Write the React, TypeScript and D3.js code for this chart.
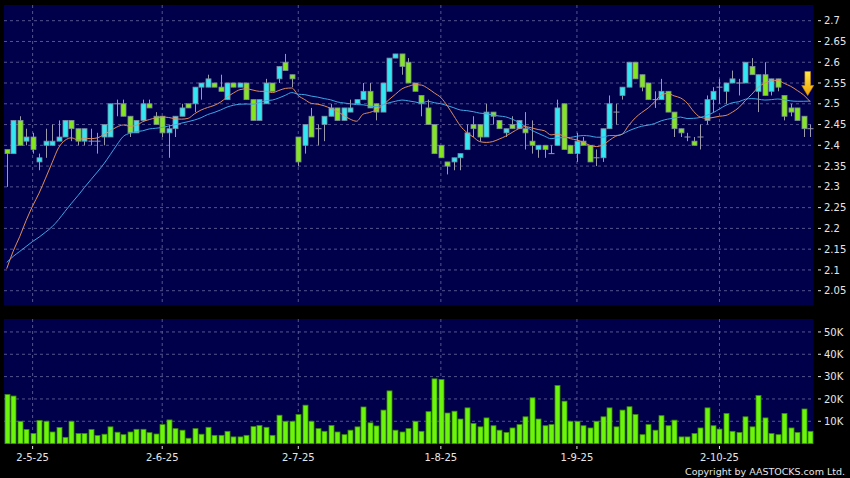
import React from 'react';
import * as d3 from 'd3';

const tickIndex = [4, 24, 45, 67, 88, 110];
const tickLabels = ['2-5-25', '2-6-25', '2-7-25', '1-8-25', '1-9-25', '2-10-25'];

const opens = [
  2.39, 2.38, 2.46, 2.41, 2.42, 2.36, 2.40, 2.40, 2.41, 2.42,
  2.46, 2.44, 2.41, 2.41, 2.41, 2.42, 2.42, 2.50, 2.50, 2.47,
  2.43, 2.46, 2.50, 2.47, 2.47, 2.43, 2.44, 2.47, 2.50, 2.50,
  2.54, 2.54, 2.55, 2.54, 2.51, 2.55, 2.54, 2.55, 2.51, 2.46,
  2.50, 2.55, 2.56, 2.60, 2.57, 2.42, 2.40, 2.47, 2.44, 2.45,
  2.47, 2.49, 2.46, 2.48, 2.50, 2.51, 2.53, 2.50, 2.48, 2.53,
  2.61, 2.62, 2.60, 2.55, 2.52, 2.49, 2.45, 2.40, 2.36, 2.36,
  2.37, 2.39, 2.45, 2.45, 2.42, 2.48, 2.46, 2.43, 2.45, 2.44,
  2.44, 2.41, 2.39, 2.40, 2.38, 2.40, 2.50, 2.40, 2.38, 2.41,
  2.40, 2.37, 2.37, 2.44, 2.48, 2.52, 2.54, 2.60, 2.57, 2.55,
  2.51, 2.51, 2.53, 2.48, 2.44, 2.42, 2.41, 2.42, 2.46, 2.51,
  2.54, 2.53, 2.55, 2.55, 2.55, 2.59, 2.53, 2.57, 2.53, 2.56,
  2.52, 2.49, 2.49, 2.47, 2.44,
];
const highs = [
  2.39, 2.46, 2.47, 2.44, 2.43, 2.38, 2.44, 2.45, 2.46, 2.46,
  2.46, 2.44, 2.44, 2.44, 2.43, 2.45, 2.50, 2.51, 2.51, 2.47,
  2.46, 2.51, 2.51, 2.48, 2.47, 2.45, 2.47, 2.50, 2.50, 2.54,
  2.55, 2.57, 2.55, 2.57, 2.55, 2.55, 2.55, 2.55, 2.51, 2.51,
  2.56, 2.55, 2.59, 2.62, 2.57, 2.42, 2.45, 2.49, 2.45, 2.47,
  2.50, 2.49, 2.49, 2.51, 2.51, 2.55, 2.55, 2.50, 2.55, 2.61,
  2.62, 2.62, 2.61, 2.55, 2.52, 2.51, 2.45, 2.40, 2.36, 2.37,
  2.38, 2.45, 2.47, 2.45, 2.50, 2.48, 2.46, 2.44, 2.47, 2.46,
  2.48, 2.46, 2.40, 2.40, 2.40, 2.51, 2.50, 2.40, 2.43, 2.42,
  2.40, 2.39, 2.44, 2.52, 2.50, 2.54, 2.60, 2.60, 2.57, 2.55,
  2.53, 2.56, 2.53, 2.48, 2.44, 2.43, 2.42, 2.45, 2.52, 2.54,
  2.56, 2.55, 2.58, 2.56, 2.60, 2.61, 2.57, 2.60, 2.56, 2.56,
  2.52, 2.50, 2.49, 2.47, 2.45,
];
const lows = [
  2.30, 2.38, 2.40, 2.40, 2.38, 2.34, 2.37, 2.40, 2.41, 2.42,
  2.41, 2.40, 2.40, 2.40, 2.38, 2.40, 2.42, 2.47, 2.47, 2.42,
  2.43, 2.46, 2.49, 2.45, 2.42, 2.37, 2.42, 2.47, 2.49, 2.48,
  2.51, 2.54, 2.54, 2.53, 2.51, 2.54, 2.54, 2.51, 2.46, 2.46,
  2.50, 2.53, 2.55, 2.58, 2.54, 2.35, 2.38, 2.42, 2.40, 2.41,
  2.47, 2.46, 2.46, 2.48, 2.50, 2.51, 2.49, 2.46, 2.48, 2.53,
  2.61, 2.57, 2.55, 2.53, 2.47, 2.45, 2.38, 2.37, 2.33, 2.34,
  2.34, 2.39, 2.42, 2.41, 2.42, 2.45, 2.44, 2.42, 2.44, 2.44,
  2.39, 2.38, 2.37, 2.37, 2.38, 2.40, 2.39, 2.38, 2.36, 2.40,
  2.36, 2.35, 2.36, 2.44, 2.45, 2.51, 2.54, 2.56, 2.53, 2.51,
  2.49, 2.51, 2.48, 2.42, 2.42, 2.41, 2.40, 2.39, 2.45, 2.48,
  2.50, 2.50, 2.55, 2.52, 2.55, 2.57, 2.48, 2.52, 2.52, 2.53,
  2.46, 2.47, 2.46, 2.42, 2.42,
];
const closes = [
  2.38, 2.46, 2.40, 2.42, 2.39, 2.37, 2.41, 2.41, 2.42, 2.46,
  2.44, 2.41, 2.44, 2.41, 2.41, 2.45, 2.50, 2.50, 2.47, 2.43,
  2.46, 2.50, 2.49, 2.45, 2.43, 2.44, 2.47, 2.49, 2.49, 2.54,
  2.55, 2.56, 2.54, 2.53, 2.55, 2.54, 2.55, 2.51, 2.46, 2.51,
  2.55, 2.53, 2.59, 2.58, 2.56, 2.36, 2.45, 2.42, 2.44, 2.47,
  2.49, 2.46, 2.49, 2.49, 2.51, 2.53, 2.49, 2.48, 2.55, 2.61,
  2.62, 2.59, 2.55, 2.53, 2.50, 2.45, 2.38, 2.37, 2.35, 2.37,
  2.38, 2.43, 2.44, 2.42, 2.48, 2.47, 2.44, 2.44, 2.44, 2.46,
  2.43, 2.40, 2.40, 2.39, 2.38, 2.49, 2.39, 2.38, 2.41, 2.40,
  2.36, 2.37, 2.44, 2.50, 2.48, 2.54, 2.60, 2.56, 2.54, 2.51,
  2.51, 2.53, 2.48, 2.44, 2.43, 2.42, 2.40, 2.42, 2.51, 2.53,
  2.54, 2.55, 2.56, 2.55, 2.60, 2.57, 2.57, 2.52, 2.56, 2.54,
  2.47, 2.48, 2.46, 2.44, 2.44,
];
// volume in thousands of shares
const volumesK = [
  22, 21.3, 10, 6.3, 4.5, 10.4, 10, 5.2, 7.2, 2.8,
  10, 4.5, 4.5, 6.3, 3.6, 4.2, 7.5, 5.1, 4, 5.2,
  6.4, 6.4, 4.9, 4.3, 8.5, 10.6, 6.7, 6, 2.4, 6.7,
  4.2, 7.3, 3.7, 3.7, 5.5, 3, 3, 3.7, 7.6, 8.1,
  7.3, 3.7, 12.7, 10, 10, 13, 17.2, 10, 6.7, 5.5,
  8.1, 5.2, 4, 6, 7.5, 16.4, 9.3, 7.9, 15, 23.6,
  6, 5.2, 6.7, 10, 5.5, 14.3, 29, 28.7, 13.7, 14.5,
  11, 16, 9, 7.5, 11.5, 8, 6, 5, 7, 8.5,
  12, 20.5, 11, 8, 8.5, 26, 19, 10, 10, 8,
  7, 10, 12, 16, 7.5, 15, 16.5, 13, 4, 8.5,
  6, 12.5, 8, 10.5, 3, 3, 4.5, 7, 16, 8,
  6.5, 13.5, 5.5, 5, 12, 7.5, 21.5, 11.5, 4.5, 4,
  13.5, 7, 5, 15.5, 5.5,
];
// closes of the 19 sessions before the first visible one (used by the moving averages)
const priorCloses = [
  2.17, 2.16, 2.18, 2.15, 2.16, 2.17, 2.15, 2.08, 2.06, 2.05,
  2.04, 2.05, 2.03, 2.04, 2.06, 2.05, 2.04, 2.06, 2.28,
];
const priceTicks = [2.05, 2.1, 2.15, 2.2, 2.25, 2.3, 2.35, 2.4, 2.45, 2.5, 2.55, 2.6, 2.65, 2.7];
const volumeTicksK = [10, 20, 30, 40, 50];
const signalPrice = 2.52;

const W = 850;
const H = 478;
const P = { left: 4, right: 813.5, top: 5, bottom: 305 };
const V = { top: 319, bottom: 443.6 };

const BG = '#000000';
const PANEL = '#00004a';
const GRID = '#6a6a9e';
const UP = '#33e6f2';
const DOWN = '#84e61e';
const OUTLINE = '#7d8aa0';
const WICK = '#9a9aa8';
const MA_SHORT = '#e08c5c';
const MA_LONG = '#3ea6e6';
const TEXT = '#e6e6e6';
const FONT = '"DejaVu Sans", Verdana, sans-serif';

function movingAverage(n: number): number[] {
  const all = priorCloses.concat(closes);
  const off = priorCloses.length;
  return closes.map((_, i) => d3.mean(all.slice(off + i - n + 1, off + i + 1)) as number);
}

export default function App() {
  const n = closes.length;
  const x = d3.scaleLinear().domain([0, n - 1]).range([6.7, 810.2]);
  const y = d3.scaleLinear().domain([2.0156, 2.7378]).range([P.bottom, P.top]);
  const yv = d3.scaleLinear().domain([0, 55.8]).range([V.bottom, V.top]);

  const ma10 = movingAverage(10);
  const ma20 = movingAverage(20);
  const lineGen = d3
    .line<number>()
    .x((_, i) => x(i))
    .y((d) => y(d))
    .curve(d3.curveMonotoneX);

  const bodyW = 5;
  const ax = x(n - 1) - 2.5;
  const ay = y(signalPrice);

  return (
    <svg
      width={W}
      height={H}
      style={{ position: 'absolute', left: 0, top: 0, display: 'block', background: BG }}
      fontFamily={FONT}
    >
      <defs>
        <linearGradient id="arrowGrad" x1="0" y1="0" x2="0" y2="1">
          <stop offset="0%" stopColor="#ffe84a" />
          <stop offset="100%" stopColor="#f0a000" />
        </linearGradient>
        <clipPath id="mainClip">
          <rect x={P.left} y={P.top} width={P.right - P.left} height={P.bottom - P.top} />
        </clipPath>
      </defs>
      <rect x={0} y={0} width={W} height={H} fill={BG} />

      {/* price panel */}
      <rect x={P.left} y={P.top} width={P.right - P.left} height={P.bottom - P.top} fill={PANEL} />
      {priceTicks.map((t) => (
        <line key={'hg' + t} x1={P.left} x2={P.right} y1={y(t)} y2={y(t)} stroke={GRID} strokeWidth={0.8} strokeDasharray="3,3" />
      ))}
      {tickIndex.map((ti) => (
        <line key={'vg' + ti} x1={x(ti)} x2={x(ti)} y1={P.top} y2={P.bottom} stroke={GRID} strokeWidth={0.8} strokeDasharray="3,3" />
      ))}

      {/* candles */}
      <g>
        {closes.map((c, i) => {
          const o = opens[i];
          const cx = Math.round(x(i)) + 0.5;
          const up = c > o;
          const doji = c === o;
          const yTop = y(Math.max(o, c));
          const yBot = y(Math.min(o, c));
          return (
            <g key={'c' + i}>
              <line x1={cx} x2={cx} y1={y(highs[i])} y2={y(lows[i])} stroke={WICK} strokeWidth={1} />
              {doji ? (
                <line x1={cx - 3} x2={cx + 3} y1={yTop} y2={yTop} stroke={WICK} strokeWidth={1} />
              ) : (
                <rect
                  x={cx - bodyW / 2}
                  y={yTop}
                  width={bodyW}
                  height={Math.max(1, yBot - yTop)}
                  fill={up ? UP : DOWN}
                  stroke={OUTLINE}
                  strokeWidth={0.8}
                />
              )}
            </g>
          );
        })}
      </g>

      {/* moving averages */}
      <g clipPath="url(#mainClip)">
        <path d={lineGen(ma20) || ''} fill="none" stroke={MA_LONG} strokeWidth={1} />
        <path d={lineGen(ma10) || ''} fill="none" stroke={MA_SHORT} strokeWidth={1} />
      </g>

      {/* signal arrow */}
      <path
        d={`M${ax - 2.8},${ay - 24} L${ax + 2.8},${ay - 24} L${ax + 2.8},${ay - 10} L${ax + 6},${ay - 10} L${ax},${ay} L${ax - 6},${ay - 10} L${ax - 2.8},${ay - 10} Z`}
        fill="url(#arrowGrad)"
        stroke="#c88a00"
        strokeWidth={0.6}
      />

      {/* price axis */}
      {priceTicks.map((t) => (
        <g key={'pt' + t}>
          <line x1={818} x2={821} y1={y(t)} y2={y(t)} stroke={TEXT} strokeWidth={1} />
          <text x={824} y={y(t)} dy="0.36em" fontSize={10} fill={TEXT}>
            {d3.format('~g')(t)}
          </text>
        </g>
      ))}

      {/* volume panel */}
      <rect x={P.left} y={V.top} width={P.right - P.left} height={V.bottom - V.top} fill={PANEL} />
      {volumeTicksK.map((t) => (
        <line key={'vh' + t} x1={P.left} x2={P.right} y1={yv(t)} y2={yv(t)} stroke={GRID} strokeWidth={0.8} strokeDasharray="3,3" />
      ))}
      {tickIndex.map((ti) => (
        <line key={'vv' + ti} x1={x(ti)} x2={x(ti)} y1={V.top} y2={V.bottom} stroke={GRID} strokeWidth={0.8} strokeDasharray="3,3" />
      ))}
      {volumesK.map((v, i) => {
        const cx = Math.round(x(i)) + 0.5;
        return (
          <rect
            key={'v' + i}
            x={cx - 2.5}
            y={yv(v)}
            width={5}
            height={V.bottom - yv(v)}
            fill="#6cf50c"
            stroke="#3c8c06"
            strokeWidth={0.8}
          />
        );
      })}
      {volumeTicksK.map((t) => (
        <g key={'vt' + t}>
          <line x1={818} x2={821} y1={yv(t)} y2={yv(t)} stroke={TEXT} strokeWidth={1} />
          <text x={824} y={yv(t)} dy="0.36em" fontSize={10} fill={TEXT}>
            {t + 'K'}
          </text>
        </g>
      ))}

      {/* date axis */}
      {tickIndex.map((ti, k) => (
        <g key={'dt' + ti}>
          <line x1={x(ti)} x2={x(ti)} y1={446} y2={449} stroke={TEXT} strokeWidth={1} />
          <text x={x(ti)} y={460.5} textAnchor="middle" fontSize={10} fill={TEXT}>
            {tickLabels[k]}
          </text>
        </g>
      ))}

      <text x={845} y={475} textAnchor="end" fontSize={9.5} fill={TEXT}>
        Copyright by AASTOCKS.com Ltd.
      </text>
    </svg>
  );
}
